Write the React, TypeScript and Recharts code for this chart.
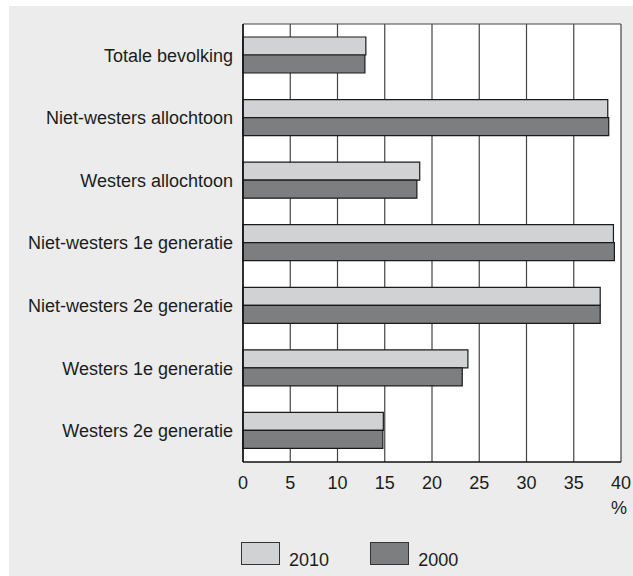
import React from 'react';
import { BarChart, Bar, XAxis, YAxis, CartesianGrid } from 'recharts';

const categories = [
  'Totale bevolking',
  'Niet-westers allochtoon',
  'Westers allochtoon',
  'Niet-westers 1e generatie',
  'Niet-westers 2e generatie',
  'Westers 1e generatie',
  'Westers 2e generatie',
];
const values2010 = [13.0, 38.6, 18.7, 39.2, 37.8, 23.8, 14.85];
const values2000 = [12.9, 38.7, 18.4, 39.3, 37.8, 23.2, 14.8];
const xTicks = [0, 5, 10, 15, 20, 25, 30, 35, 40];
const seriesNames = ['2010', '2000'];
const seriesColors = ['#d1d2d4', '#7d7e80'];

const data = categories.map((name, i) => ({
  name,
  v2010: values2010[i],
  v2000: values2000[i],
}));

const FONT = '"Liberation Sans", Arial, Helvetica, sans-serif';
const TEXT = '#1c1c1c';
const FS = 18;

export default function App() {
  return (
    <div
      style={{
        position: 'absolute',
        left: 9,
        top: 6,
        width: 624,
        height: 570,
        background: '#ebeceb',
        fontFamily: FONT,
      }}
    >
      <BarChart
        width={624}
        height={522}
        data={data}
        layout="vertical"
        margin={{ top: 18, right: 12, bottom: 20, left: 0 }}
        barGap={0}
      >
        <CartesianGrid
          horizontal={true}
          vertical={true}
          fill="#ffffff"
          stroke="#444"
          strokeWidth={1.2}
          horizontalCoordinatesGenerator={({ offset }: any) => [offset.top]}
        />
        <XAxis
          type="number"
          domain={[0, 40]}
          ticks={xTicks}
          interval={0}
          tickLine={false}
          tickSize={0}
          tickMargin={14}
          height={46}
          axisLine={{ stroke: '#111', strokeWidth: 1.5 }}
          tick={{ fill: TEXT, fontSize: FS, fontFamily: FONT }}
          label={{
            value: '%',
            position: 'insideBottomRight',
            offset: -6,
            fill: TEXT,
            fontSize: FS,
            fontFamily: FONT,
          }}
        />
        <YAxis
          type="category"
          dataKey="name"
          width={234}
          interval={0}
          tickLine={false}
          tickSize={0}
          tickMargin={10}
          axisLine={{ stroke: '#111', strokeWidth: 1.5 }}
          tick={{ fill: TEXT, fontSize: FS, fontFamily: FONT }}
        />
        <Bar
          dataKey="v2010"
          name={seriesNames[0]}
          fill={seriesColors[0]}
          stroke="#1a1a1a"
          strokeWidth={1.2}
          barSize={18}
          isAnimationActive={false}
        />
        <Bar
          dataKey="v2000"
          name={seriesNames[1]}
          fill={seriesColors[1]}
          stroke="#1a1a1a"
          strokeWidth={1.2}
          barSize={18}
          isAnimationActive={false}
        />
      </BarChart>
      {seriesNames.map((s, i) => (
        <div key={s}>
          <div
            style={{
              position: 'absolute',
              left: 232 + i * 129.3,
              top: 536,
              width: 37,
              height: 21,
              background: seriesColors[i],
              border: '1px solid #333',
            }}
          />
          <div
            style={{
              position: 'absolute',
              left: 280 + i * 129.3,
              top: 544,
              fontSize: FS,
              lineHeight: '20px',
              color: TEXT,
              fontFamily: FONT,
            }}
          >
            {s}
          </div>
        </div>
      ))}
    </div>
  );
}
